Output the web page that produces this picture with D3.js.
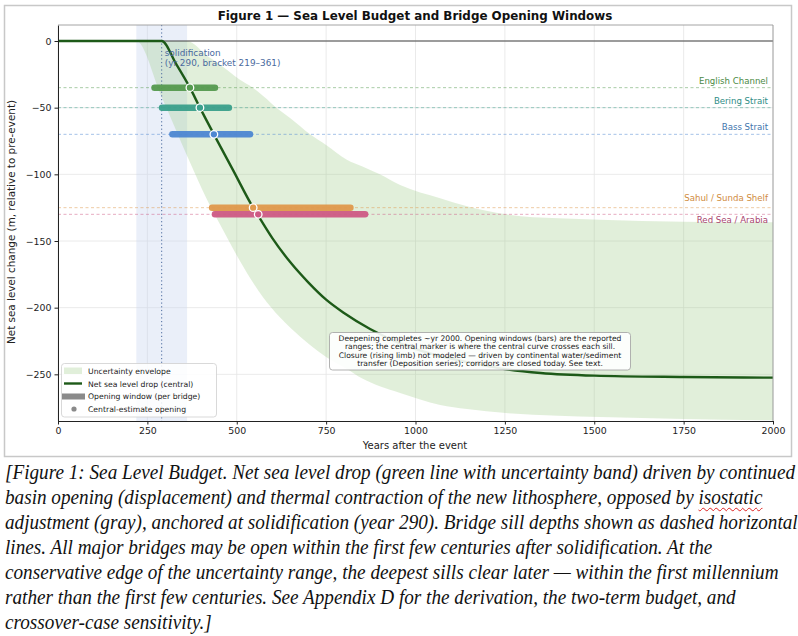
<!DOCTYPE html>
<html>
<head>
<meta charset="utf-8">
<title>Sea Level Budget</title>
<script src="https://d3js.org/d3.v7.min.js"></script>
<style>
  body { margin: 0; background: #fff; }
  #chart { position: absolute; left: 0; top: 0; }
  #caption {
    position: absolute; left: 5px; top: 460px; width: 800px;
    font-family: "Liberation Serif", serif; font-style: italic;
    font-size: 20.5px; line-height: 25px; color: #111; white-space: nowrap;
  }
  #caption div { transform-origin: 0 50%; display: inline-block; }
  .spell { text-decoration: underline wavy #d22; text-decoration-skip-ink: none; text-underline-offset: 3px; text-decoration-thickness: 1px; }
</style>
</head>
<body>
<svg id="chart" width="798" height="460"></svg>
<div id="caption">
  <div>[Figure 1: Sea Level Budget. Net sea level drop (green line with uncertainty band) driven by continued</div><br>
  <div>basin opening (displacement) and thermal contraction of the new lithosphere, opposed by <span class="spell">isostatic</span></div><br>
  <div>adjustment (gray), anchored at solidification (year 290). Bridge sill depths shown as dashed horizontal</div><br>
  <div>lines. All major bridges may be open within the first few centuries after solidification. At the</div><br>
  <div>conservative edge of the uncertainty range, the deepest sills clear later — within the first millennium</div><br>
  <div>rather than the first few centuries. See Appendix D for the derivation, the two-term budget, and</div><br>
  <div>crossover-case sensitivity.]</div>
</div>
<script>
// central net sea level curve (years after event, metres)
var centralYears = [0, 290, 330, 369, 397, 436, 490, 546, 560, 600, 650, 700, 750, 800, 873, 950, 1050, 1150, 1236, 1350, 1500, 1750, 2000];
var centralLevel = [0, 0, -17, -35, -50, -70, -97, -125, -131, -148, -166, -181, -194, -204, -216, -226, -235, -241, -245.5, -249, -251, -252, -252.5];

// uncertainty envelope
var envYears = [0, 219, 290, 361, 417, 450, 509, 545, 573, 620, 650, 705, 750, 808, 850, 900, 957, 1069, 1144, 1253, 1400, 1516, 1750, 2000];
var envDeep = [0, 0, -42, -86, -119, -136, -165, -181, -192, -207, -215, -228, -237, -246, -253, -259, -264, -273, -276, -279, -281, -282, -283.5, -284.5];
var envShallow = [0, 0, 0, 0, -11, -17, -29, -35, -41, -52, -58, -70, -78, -89, -94, -100, -108, -118, -124, -130, -133, -134, -135.5, -136];

// bridges
var bridges = ['English Channel', 'Bering Strait', 'Bass Strait', 'Sahul / Sunda Shelf', 'Red Sea / Arabia'];
var sillDepth = [-35, -50, -70, -125, -130];
var windowStart = [270, 291, 320, 431, 439];
var windowEnd = [439, 478, 537, 818, 859];
var centralOpening = [369, 397, 436, 546, 560];
var bridgeColors = ['#559a4f', '#3ba08c', '#4d87d2', '#e0994c', '#cf5a85'];
var labelColors = ['#4a8a45', '#2e8d86', '#3f75ad', '#d08c3e', '#a8456f'];
var labelDy = [-4, -4, -4, -7, 9];

var solidYear = 290, bracket = [219, 361];
var xTicks = [0, 250, 500, 750, 1000, 1250, 1500, 1750, 2000];
var yTicks = [0, -50, -100, -150, -200, -250];

var svg = d3.select('#chart');
var x = d3.scaleLinear().domain([0, 2000]).range([58, 773]);
var y = d3.scaleLinear().domain([-285, 12]).range([421, 25]);

// outer frame
svg.append('rect').attr('x', 4.5).attr('y', 5.5).attr('width', 787).attr('height', 451)
  .attr('fill', 'none').attr('stroke', '#c8c8c8').attr('stroke-width', 1.5);

// title
svg.append('text').attr('x', 415).attr('y', 20).attr('text-anchor', 'middle')
  .attr('font-family', 'DejaVu Sans').attr('font-weight', 'bold').attr('font-size', 11.9)
  .attr('fill', '#111').text('Figure 1 — Sea Level Budget and Bridge Opening Windows');

// grid
svg.append('g').selectAll('line').data(xTicks).enter().append('line')
  .attr('x1', function(d) { return x(d); }).attr('x2', function(d) { return x(d); })
  .attr('y1', 25).attr('y2', 421).attr('stroke', '#e4e4e4').attr('stroke-width', 0.8);
svg.append('g').selectAll('line').data(yTicks).enter().append('line')
  .attr('x1', 58).attr('x2', 773)
  .attr('y1', function(d) { return y(d); }).attr('y2', function(d) { return y(d); })
  .attr('stroke', '#e4e4e4').attr('stroke-width', 0.8);

// solidification bracket
svg.append('rect').attr('x', x(bracket[0])).attr('y', 25)
  .attr('width', x(bracket[1]) - x(bracket[0])).attr('height', 396)
  .attr('fill', '#c8d5ee').attr('opacity', 0.38);

// envelope
var envData = envYears.map(function(d, i) { return [d, envDeep[i], envShallow[i]]; });
var area = d3.area()
  .x(function(d) { return x(d[0]); })
  .y0(function(d) { return y(Math.max(d[1], -285)); })
  .y1(function(d) { return y(d[2]); })
  .curve(d3.curveMonotoneX);
svg.append('path').datum(envData).attr('d', area)
  .attr('fill', '#9ccb86').attr('opacity', 0.3);

// dotted solidification line
svg.append('line').attr('x1', x(solidYear)).attr('x2', x(solidYear)).attr('y1', 25).attr('y2', 421)
  .attr('stroke', '#4a6a9e').attr('stroke-width', 1).attr('stroke-dasharray', '1.2,2.5');

// sill lines
svg.append('g').selectAll('line').data(sillDepth).enter().append('line')
  .attr('x1', 58).attr('x2', 773)
  .attr('y1', function(d) { return y(d); }).attr('y2', function(d) { return y(d); })
  .attr('stroke', function(d, i) { return bridgeColors[i]; })
  .attr('stroke-width', 0.9).attr('stroke-dasharray', '3,2.5').attr('opacity', 0.55);

// sill labels
svg.append('g').selectAll('text').data(bridges).enter().append('text')
  .attr('x', 768).attr('y', function(d, i) { return y(sillDepth[i]) + labelDy[i]; })
  .attr('text-anchor', 'end').attr('font-family', 'DejaVu Sans').attr('font-size', 8.6)
  .attr('fill', function(d, i) { return labelColors[i]; })
  .text(function(d) { return d; });

// zero line
svg.append('line').attr('x1', 58).attr('x2', 773).attr('y1', y(0)).attr('y2', y(0))
  .attr('stroke', '#444').attr('stroke-width', 1.1);

// central curve
var line = d3.line()
  .x(function(d) { return x(d[0]); })
  .y(function(d) { return y(d[1]); })
  .curve(d3.curveMonotoneX);
svg.append('path').datum(centralYears.map(function(d, i) { return [d, centralLevel[i]]; }))
  .attr('d', line).attr('fill', 'none').attr('stroke', '#1d5a18').attr('stroke-width', 2.4);

// opening windows
svg.append('g').selectAll('line').data(bridges).enter().append('line')
  .attr('x1', function(d, i) { return x(windowStart[i]); })
  .attr('x2', function(d, i) { return x(windowEnd[i]); })
  .attr('y1', function(d, i) { return y(sillDepth[i]); })
  .attr('y2', function(d, i) { return y(sillDepth[i]); })
  .attr('stroke', function(d, i) { return bridgeColors[i]; })
  .attr('stroke-width', 6.5).attr('stroke-linecap', 'round').attr('opacity', 0.95);

svg.append('g').selectAll('circle').data(bridges).enter().append('circle')
  .attr('cx', function(d, i) { return x(centralOpening[i]); })
  .attr('cy', function(d, i) { return y(sillDepth[i]); })
  .attr('r', 3.8)
  .attr('fill', function(d, i) { return bridgeColors[i]; })
  .attr('stroke', '#fff').attr('stroke-width', 1.3);

// solidification note
var note = svg.append('text').attr('font-family', 'DejaVu Sans').attr('font-size', 8.9).attr('fill', '#4a6a9e');
note.append('tspan').attr('x', x(solidYear) + 3).attr('y', 56).text('solidification');
note.append('tspan').attr('x', x(solidYear) + 3).attr('y', 66).text('(yr 290, bracket 219–361)');

// axes
var xAxis = svg.append('g').attr('transform', 'translate(0,421)')
  .call(d3.axisBottom(x).tickValues(xTicks).tickFormat(d3.format('d')).tickSize(3.5).tickPadding(3).tickSizeOuter(0));
var yAxis = svg.append('g').attr('transform', 'translate(58,0)')
  .call(d3.axisLeft(y).tickValues(yTicks).tickFormat(d3.format('d')).tickSize(3.5).tickPadding(3).tickSizeOuter(0));
[xAxis, yAxis].forEach(function(a) {
  a.select('.domain').attr('stroke', '#222');
  a.selectAll('.tick line').attr('stroke', '#222');
  a.selectAll('.tick text').attr('font-family', 'DejaVu Sans').attr('font-size', 9.4).attr('fill', '#222');
});
// top / right spines
svg.append('line').attr('x1', 58).attr('x2', 773).attr('y1', 25).attr('y2', 25).attr('stroke', '#9a9a9a').attr('stroke-width', 0.9);
svg.append('line').attr('x1', 773).attr('x2', 773).attr('y1', 25).attr('y2', 421).attr('stroke', '#9a9a9a').attr('stroke-width', 0.9);

svg.append('text').attr('x', 415).attr('y', 449).attr('text-anchor', 'middle')
  .attr('font-family', 'DejaVu Sans').attr('font-size', 10).attr('fill', '#222').text('Years after the event');
svg.append('text').attr('transform', 'translate(15,222) rotate(-90)').attr('text-anchor', 'middle')
  .attr('font-family', 'DejaVu Sans').attr('font-size', 10.4).attr('fill', '#222')
  .text('Net sea level change (m, relative to pre-event)');

// note box
var boxLines = [
  'Deepening completes ~yr 2000. Opening windows (bars) are the reported',
  'ranges; the central marker is where the central curve crosses each sill.',
  'Closure (rising limb) not modeled — driven by continental water/sediment',
  'transfer (Deposition series); corridors are closed today. See text.'
];
svg.append('rect').attr('x', 329.5).attr('y', 332.5).attr('width', 301).attr('height', 37.5)
  .attr('rx', 3).attr('fill', '#fff').attr('fill-opacity', 0.9).attr('stroke', '#a0a0a0').attr('stroke-width', 0.8);
svg.append('g').selectAll('text').data(boxLines).enter().append('text')
  .attr('x', 480).attr('y', function(d, i) { return 340.8 + i * 8.4; })
  .attr('text-anchor', 'middle').attr('font-family', 'DejaVu Sans').attr('font-size', 7.6)
  .attr('fill', '#1a1a1a').text(function(d) { return d; });

// legend
var lg = svg.append('g');
lg.append('rect').attr('x', 61.5).attr('y', 363.5).attr('width', 155).attr('height', 53.5)
  .attr('rx', 3).attr('fill', '#fff').attr('fill-opacity', 0.85).attr('stroke', '#cfcfcf').attr('stroke-width', 0.8);
lg.append('rect').attr('x', 64).attr('y', 367.5).attr('width', 18).attr('height', 6.5)
  .attr('fill', '#9ccb86').attr('opacity', 0.3);
lg.append('line').attr('x1', 64).attr('x2', 82).attr('y1', 383.5).attr('y2', 383.5)
  .attr('stroke', '#1d5a18').attr('stroke-width', 2.4);
lg.append('rect').attr('x', 62).attr('y', 393.5).attr('width', 23).attr('height', 6)
  .attr('fill', '#8a8a8a');
lg.append('circle').attr('cx', 74).attr('cy', 409).attr('r', 2.6).attr('fill', '#8a8a8a');
var legendLabels = ['Uncertainty envelope', 'Net sea level drop (central)', 'Opening window (per bridge)', 'Central-estimate opening'];
lg.selectAll('text.lab').data(legendLabels).enter().append('text')
  .attr('x', 88).attr('y', function(d, i) { return 374 + i * 12.6; })
  .attr('font-family', 'DejaVu Sans').attr('font-size', 7.7).attr('fill', '#222')
  .text(function(d) { return d; });

// squeeze caption lines so the first one spans the frame width, like the reference
var capLines = document.querySelectorAll('#caption div');
var w0 = capLines[0].getBoundingClientRect().width;
var k = 790 / w0;
capLines.forEach(function(el) { el.style.transform = 'scaleX(' + k + ')'; });
</script>
</body>
</html>
